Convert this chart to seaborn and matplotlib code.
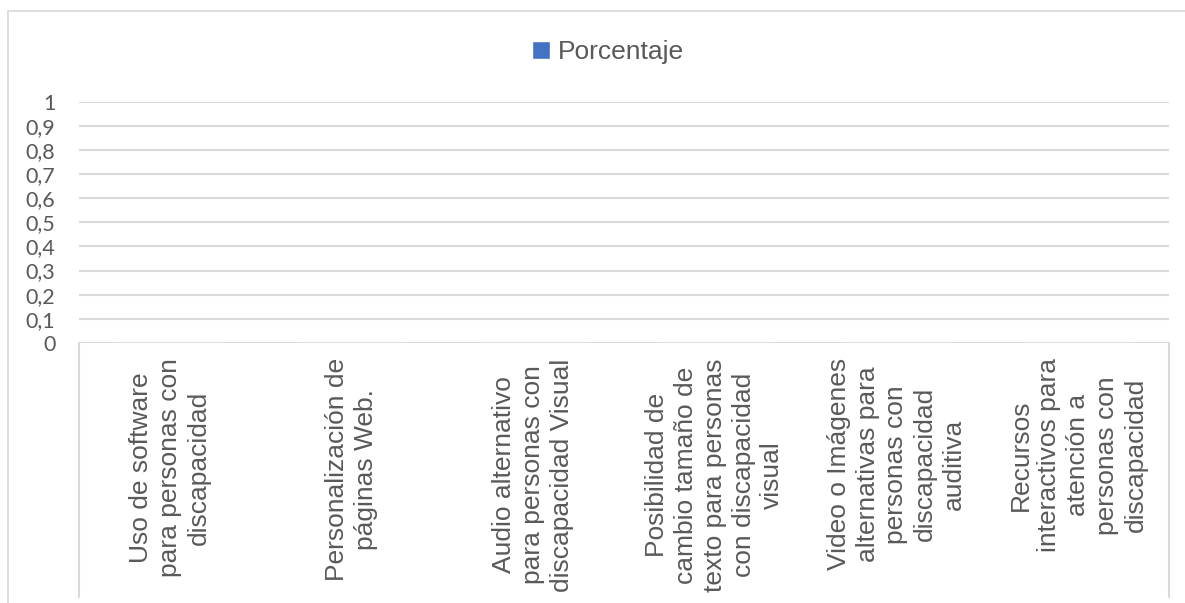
import matplotlib
matplotlib.use("Agg")
import matplotlib.pyplot as plt
from matplotlib.patches import Rectangle
from matplotlib.lines import Line2D
from matplotlib.ticker import FuncFormatter, MultipleLocator
import seaborn as sns
import pandas as pd

# Data
categorias = [
    "Uso de software\npara personas con\ndiscapacidad",
    "Personalización de\npáginas Web.",
    "Audio alternativo\npara personas con\ndiscapacidad Visual",
    "Posibilidad de\ncambio tamaño de\ntexto para personas\ncon discapacidad\nvisual",
    "Video o Imágenes\nalternativas para\npersonas con\ndiscapacidad\nauditiva",
    "Recursos\ninteractivos para\natención a\npersonas con\ndiscapacidad",
]
porcentaje = [0, 0, 0, 0, 0, 0]
serie = "Porcentaje"

sns.set_theme(style="white")
plt.rcParams["font.family"] = ["Liberation Sans", "DejaVu Sans"]

TEXT = "#595959"
GRID = "#d9d9d9"
BAR = "#4472C4"

W, H = 1185, 603
fig = plt.figure(figsize=(W / 100, H / 100), dpi=100)
fig.patch.set_facecolor("white")

# outer chart-area border
fig.add_artist(Rectangle((8 / W, -0.05), 1.2, 1 - 11 / H + 0.05,
                         transform=fig.transFigure, fill=False,
                         edgecolor=GRID, linewidth=1.2))

left, right = 79 / W, 1169 / W
top, bottom = 1 - 101.5 / H, 1 - 343 / H
ax = fig.add_axes([left, bottom, right - left, top - bottom])

df = pd.DataFrame({"cat": categorias, "val": porcentaje})
sns.barplot(data=df, x="cat", y="val", color=BAR, label=serie, ax=ax,
            width=0.6, saturation=1)

ax.set_ylim(0, 1)
ax.set_xlim(-0.5, len(categorias) - 0.5)
ax.yaxis.set_major_locator(MultipleLocator(0.1))
ax.yaxis.set_major_formatter(FuncFormatter(
    lambda v, p: "0" if abs(v) < 1e-9 else ("1" if abs(v - 1) < 1e-9 else f"{v:.1f}".replace(".", ","))))
ax.grid(axis="y", color=GRID, linewidth=1.5)
ax.set_axisbelow(True)
for s in ax.spines.values():
    s.set_visible(False)
ax.set_xlabel("")
ax.set_ylabel("")
ax.tick_params(axis="y", length=0, pad=17, labelsize=15.5, labelcolor=TEXT)
for t in ax.get_yticklabels():
    t.set_fontfamily(["Lato", "DejaVu Sans"])
ax.tick_params(axis="x", length=0, pad=11, labelsize=19, labelcolor=TEXT)
ax.set_xticks(range(len(categorias)))
ax.set_xticklabels(categorias, rotation=90, ha="center", va="top",
                   multialignment="center", linespacing=1.25)

# category-area boundary lines below the axis
lo = (343 - 597) / (343 - 101.5)
for xa in (0, 1):
    ax.add_line(Line2D([xa, xa], [0, lo], transform=ax.transAxes,
                       color=GRID, linewidth=1.5, clip_on=False))

handles, labels = ax.get_legend_handles_labels()
if ax.get_legend() is not None:
    ax.get_legend().remove()
fig.legend(handles, labels, loc="center",
           bbox_to_anchor=(608 / W, 1 - 52 / H), frameon=False,
           fontsize=19, handlelength=0.7, handleheight=0.7,
           handletextpad=0.3, labelcolor=TEXT)

fig.savefig("out.png", dpi=100, facecolor="white")
